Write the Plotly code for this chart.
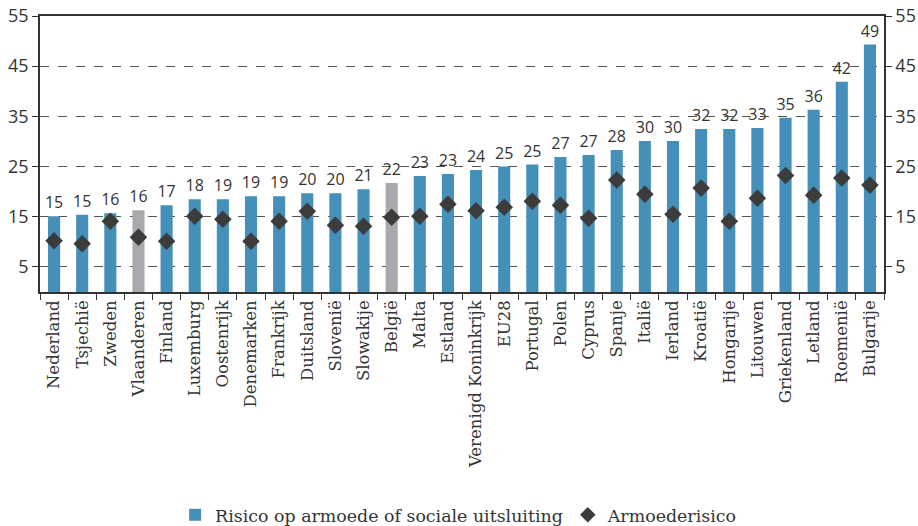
import plotly.graph_objects as go

landen = ["Nederland", "Tsjechië", "Zweden", "Vlaanderen", "Finland", "Luxemburg",
          "Oostenrijk", "Denemarken", "Frankrijk", "Duitsland", "Slovenië", "Slowakije",
          "België", "Malta", "Estland", "Verenigd Koninkrijk", "EU28", "Portugal", "Polen",
          "Cyprus", "Spanje", "Italië", "Ierland", "Kroatië", "Hongarije", "Litouwen",
          "Griekenland", "Letland", "Roemenië", "Bulgarije"]

risico_uitsluiting = [15.1, 15.4, 15.7, 16.3, 17.3, 18.5, 18.5, 19.1, 19.1, 19.7, 19.7, 20.5,
                      21.7, 23.1, 23.5, 24.3, 25.0, 25.4, 26.9, 27.3, 28.3, 30.1, 30.1, 32.5,
                      32.5, 32.7, 34.7, 36.3, 41.9, 49.3]

labels_uitsluiting = ["15", "15", "16", "16", "17", "18", "19", "19", "19", "20", "20", "21",
                      "22", "23", "23", "24", "25", "25", "27", "27", "28", "30", "30", "32",
                      "32", "33", "35", "36", "42", "49"]

armoederisico = [10.2, 9.6, 14.1, 10.9, 10.1, 15.1, 14.5, 10.1, 14.1, 16.1, 13.3, 13.1,
                 14.9, 15.1, 17.5, 16.2, 16.9, 18.1, 17.3, 14.7, 22.3, 19.5, 15.5, 20.7,
                 14.1, 18.7, 23.2, 19.3, 22.7, 21.3]

y_ticks = [5, 15, 25, 35, 45, 55]

BLUE = "#4590b9"
GREY = "#a7a9ac"
DARK = "#3c3c3c"
AXIS = "#333333"

bar_colors = [GREY if l in ("Vlaanderen", "België") else BLUE for l in landen]

fig = go.Figure()
fig.add_trace(go.Bar(
    x=landen, y=risico_uitsluiting, name="Risico op armoede of sociale uitsluiting",
    marker=dict(color=bar_colors, line=dict(width=0)),
    text=labels_uitsluiting, textposition="outside", constraintext="none",
    textfont=dict(family="Open Sans", size=16, color="#333333"),
    cliponaxis=False, width=0.43,
))
fig.add_trace(go.Scatter(
    x=landen, y=armoederisico, name="Armoederisico", mode="markers",
    marker=dict(symbol="diamond", size=13.5, color=DARK, line=dict(width=0)),
))
# invisible trace to carry the right-hand axis
fig.add_trace(go.Scatter(x=landen, y=armoederisico, yaxis="y2", mode="markers",
                         marker=dict(opacity=0), showlegend=False, hoverinfo="skip"))

fig.update_layout(
    width=918, height=526,
    margin=dict(l=40, r=34, t=16, b=234),
    paper_bgcolor="white", plot_bgcolor="white",
    showlegend=True,
    legend=dict(orientation="h", x=0.496, xanchor="center",
                yref="container", y=0.021, yanchor="middle",
                font=dict(family="DejaVu Serif", size=17.4, color="#333333"),
                itemsizing="constant", itemwidth=30, borderwidth=0),
    xaxis=dict(
        type="category", range=[-0.5, len(landen) - 0.5], autorange=False,
        showgrid=False, showline=True, linecolor=AXIS, linewidth=1.5,
        mirror=True, ticks="outside", tickson="boundaries", ticklen=6, tickcolor=AXIS,
        tickangle=-90, tickfont=dict(family="DejaVu Serif", size=16.5, color="#333333"),
        automargin=False,
    ),
    yaxis=dict(
        range=[0, 55], tickvals=y_ticks, showgrid=True, gridcolor="#555555",
        griddash="dash", gridwidth=1, showline=True, linecolor=AXIS, linewidth=1.5,
        ticks="outside", ticklen=6, tickcolor=AXIS, zeroline=False,
        tickfont=dict(family="Open Sans", size=18, color="#333333"), automargin=False,
        ticklabeloverflow="allow",
    ),
    yaxis2=dict(
        range=[0, 55], tickvals=y_ticks, overlaying="y", side="right", showgrid=False,
        showline=True, linecolor=AXIS, linewidth=1.5, ticks="outside", ticklen=6,
        tickcolor=AXIS, zeroline=False,
        tickfont=dict(family="Open Sans", size=18, color="#333333"), automargin=False,
        ticklabeloverflow="allow",
    ),
)

fig.write_html(
    "out.html",
    config={"displayModeBar": False},
    post_script="document.body.style.margin='0';document.body.style.overflow='hidden';",
)
